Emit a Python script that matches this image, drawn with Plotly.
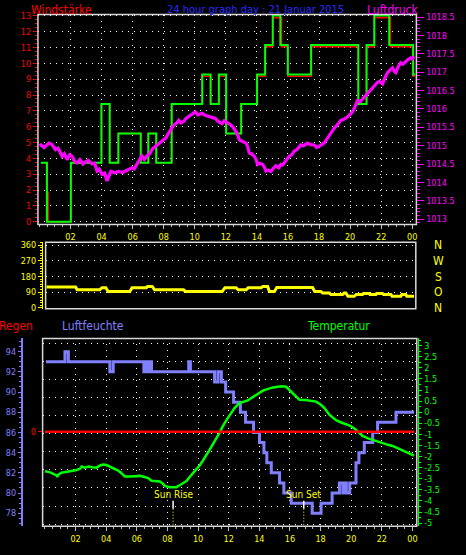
import plotly.graph_objects as go

# ---------------- data ----------------
hour_ticks = [2, 4, 6, 8, 10, 12, 14, 16, 18, 20, 22, 24]
hour_labels = ["02", "04", "06", "08", "10", "12", "14", "16", "18", "20", "22", "00"]

# wind gust (green) step series
gust_h = [0.09, 0.48, 2.02, 3.99, 4.52, 5.08, 6.52, 7.01, 7.52, 8.51, 10.48, 11.02, 11.55, 12.02,
          12.99, 14.01, 14.53, 15.02, 15.51, 15.99, 17.49, 20.53, 21.06, 21.56, 22.52, 24.06, 24.19]
gust_v = [3.72, 0, 3.72, 7.44, 3.72, 5.58, 3.72, 5.58, 3.72, 7.44, 9.3, 7.44, 9.3, 5.58,
          7.44, 9.3, 11.16, 13.02, 11.16, 9.3, 11.16, 7.44, 11.16, 13.02, 11.16, 9.3, 9.3]

# wind speed (red) step series
wind_h = [0.09, 0.48, 0.56, 2.02, 3.99, 4.52, 5.08, 6.52, 7.01, 7.52, 8.51, 10.48, 11.02, 11.55, 12.02,
          12.99, 14.01, 14.53, 15.02, 15.59, 15.99, 17.49, 20.53, 21.06, 21.56, 22.6, 24.06, 24.19]
wind_v = [3.72, 1.86, 0, 3.72, 7.44, 3.72, 5.58, 3.72, 5.58, 3.72, 7.44, 9.18, 7.44, 9.18, 5.58,
          7.44, 9.18, 11.04, 12.88, 11.04, 9.18, 11.04, 7.44, 11.04, 12.88, 11.04, 9.18, 9.18]

# pressure (magenta)
press_h = [0.0, 0.1, 0.3, 0.6, 0.8, 1.03, 1.2, 1.46, 1.6, 1.78, 1.95, 2.1, 2.25, 2.42, 2.6, 2.8, 2.96,
           3.15, 3.39, 3.55, 3.71, 3.85, 4.03, 4.2, 4.35, 4.5, 4.6, 4.85, 5.1, 5.35, 5.64, 5.8, 5.96,
           6.1, 6.28, 6.45, 6.6, 6.75, 6.93, 7.1, 7.25, 7.4, 7.57, 7.8, 8.0, 8.15, 8.32, 8.5, 8.64,
           8.8, 8.97, 9.1, 9.29, 9.45, 9.61, 9.8, 10.04, 10.2, 10.47, 10.7, 10.9, 11.1, 11.33, 11.5,
           11.76, 11.9, 12.02, 12.2, 12.34, 12.5, 12.66, 12.8, 12.87, 13.05, 13.3, 13.4, 13.51, 13.65,
           13.83, 13.95, 14.05, 14.2, 14.37, 14.5, 14.58, 14.75, 14.9, 15.05, 15.22, 15.4, 15.54,
           15.65, 15.76, 15.9, 16.08, 16.25, 16.4, 16.6, 16.83, 17.0, 17.26, 17.45, 17.69, 17.85,
           18.01, 18.15, 18.33, 18.5, 18.65, 18.8, 18.97, 19.2, 19.4, 19.6, 19.83, 20.0, 20.15, 20.3,
           20.48, 20.65, 20.8, 20.95, 21.12, 21.3, 21.44, 21.6, 21.76, 21.9, 22.09, 22.25, 22.41,
           22.55, 22.73, 22.85, 22.94, 23.1, 23.26, 23.4, 23.58, 23.75, 23.9, 24.0, 24.12]
press_v = [1015.00, 1015.02, 1014.95, 1015.07, 1015.03, 1014.89, 1014.93, 1014.71, 1014.78, 1014.62,
           1014.75, 1014.71, 1014.58, 1014.53, 1014.62, 1014.50, 1014.56, 1014.60, 1014.50, 1014.52,
           1014.31, 1014.36, 1014.22, 1014.25, 1014.04, 1014.20, 1014.30, 1014.26, 1014.30, 1014.27,
           1014.33, 1014.36, 1014.40, 1014.37, 1014.52, 1014.62, 1014.72, 1014.62, 1014.73, 1014.78,
           1014.90, 1014.95, 1015.02, 1015.10, 1015.16, 1015.22, 1015.34, 1015.45, 1015.56, 1015.60,
           1015.69, 1015.62, 1015.66, 1015.75, 1015.80, 1015.86, 1015.92, 1015.84, 1015.88, 1015.82,
           1015.80, 1015.76, 1015.74, 1015.66, 1015.60, 1015.68, 1015.65, 1015.62, 1015.56, 1015.48,
           1015.38, 1015.25, 1015.16, 1015.12, 1015.07, 1014.98, 1014.80, 1014.78, 1014.71, 1014.62,
           1014.49, 1014.52, 1014.49, 1014.40, 1014.31, 1014.33, 1014.30, 1014.38, 1014.45, 1014.40,
           1014.49, 1014.47, 1014.53, 1014.62, 1014.71, 1014.75, 1014.85, 1014.90, 1015.02, 1015.00,
           1015.07, 1015.03, 1015.02, 1014.95, 1014.98, 1015.02, 1015.07, 1015.18, 1015.29, 1015.35,
           1015.47, 1015.58, 1015.69, 1015.72, 1015.78, 1015.85, 1015.92, 1016.05, 1016.23, 1016.20,
           1016.27, 1016.35, 1016.45, 1016.52, 1016.59, 1016.65, 1016.72, 1016.75, 1016.68, 1016.85,
           1016.99, 1017.05, 1017.12, 1017.02, 1016.99, 1017.15, 1017.26, 1017.22, 1017.30, 1017.35,
           1017.39, 1017.36, 1017.43]
press_ticks = [1013, 1013.5, 1014, 1014.5, 1015, 1015.5, 1016, 1016.5, 1017, 1017.5, 1018, 1018.5]
press_labels = ["1013", "1013.5", "1014", "1014.5", "1015", "1015.5", "1016", "1016.5", "1017",
                "1017.5", "1018", "1018.5"]

# wind direction (yellow)
dir_h = [0.32, 2.2, 2.3, 3.76, 3.9, 4.15, 4.3, 5.7, 5.85, 6.77, 6.85, 7.15, 7.3, 9.17, 9.3, 11.67,
         11.85, 12.57, 12.7, 13.22, 13.35, 14.18, 14.3, 14.61, 14.72, 15.04, 15.2, 17.51, 17.65, 18.05,
         18.16, 18.59, 18.7, 19.45, 19.55, 19.66, 19.8, 20.2, 20.33, 20.74, 20.8, 21.17, 21.22, 21.6,
         21.65, 22.02, 22.1, 22.57, 22.65, 23.21, 23.28, 23.53, 23.6, 24.07]
dir_v = [120, 120, 104, 104, 116, 116, 94, 94, 116, 116, 123, 123, 104, 104, 94, 94,
         116, 116, 104, 104, 116, 116, 123, 123, 94, 94, 117, 117, 94, 94,
         85, 85, 77, 77, 85, 85, 66, 66, 77, 77, 83, 83, 77, 77,
         83, 83, 77, 77, 66, 66, 77, 77, 66, 66]

# humidity (step)
hum_h = [0.07, 1.31, 1.53, 4.24, 4.46, 6.46, 6.6, 6.7, 6.85, 6.96, 9.39, 9.5, 11.08, 11.3, 11.52,
         11.8, 12.32, 12.76, 13.1, 13.62, 14.01, 14.3, 14.49, 14.78, 15.32, 15.6, 16.08, 17.45, 18.03,
         18.75, 19.23, 19.45, 19.58, 19.68, 19.9, 20.31, 20.5, 20.85, 21.4, 21.72, 22.92, 24.1]
hum_v = [93, 94, 93, 92, 93, 92, 93, 92, 93, 92, 93, 92, 91, 92, 91,
         90, 89, 88, 87, 86, 85, 84, 83, 82, 81, 80, 79, 78, 79,
         80, 81, 80, 81, 80, 81, 83, 84, 85, 86, 87, 88, 88]

# temperature
temp_h = [0.0, 0.3, 0.55, 0.77, 0.81, 0.9, 1.09, 1.4, 1.75, 2.0, 2.29, 2.4, 2.6, 2.83, 3.1, 3.37, 3.6,
          3.8, 4.02, 4.24, 4.5, 4.78, 5.0, 5.22, 5.6, 5.98, 6.2, 6.5, 6.74, 6.96, 7.5, 7.7, 7.82, 8.15,
          8.59, 8.8, 9.0, 9.24, 9.45, 9.67, 9.9, 10.1, 10.3, 10.54, 10.75, 10.97, 11.2, 11.41, 11.6,
          11.73, 11.9, 12.06, 12.38, 12.7, 13.0, 13.25, 13.5, 13.8, 14.0, 14.23, 14.45, 14.66, 14.9,
          15.21, 15.5, 15.75, 15.9, 16.08, 16.3, 16.62, 17.0, 17.3, 17.7, 18.0, 18.25, 18.57, 18.8,
          19.01, 19.3, 19.55, 19.9, 20.2, 20.5, 20.74, 21.1, 21.4, 21.75, 22.05, 22.4, 22.7, 23.0,
          23.35, 23.7, 24.1]
temp_v = [-2.66, -2.70, -2.78, -2.85, -2.92, -2.80, -2.73, -2.70, -2.66, -2.62, -2.55, -2.45, -2.50,
          -2.45, -2.48, -2.50, -2.40, -2.36, -2.38, -2.45, -2.52, -2.63, -2.75, -2.90, -2.90, -2.90,
          -2.87, -2.92, -2.97, -3.09, -3.12, -3.22, -3.32, -3.38, -3.38, -3.29, -3.20, -3.10, -2.92,
          -2.75, -2.58, -2.40, -2.20, -1.96, -1.70, -1.44, -1.18, -0.92, -0.65, -0.48, -0.30, -0.14,
          0.19, 0.41, 0.48, 0.53, 0.65, 0.78, 0.88, 0.97, 1.03, 1.08, 1.12, 1.15, 1.17, 1.15, 1.05,
          0.93, 0.75, 0.56, 0.55, 0.52, 0.48, 0.35, 0.19, -0.11, -0.25, -0.36, -0.45, -0.51, -0.60,
          -0.73, -0.92, -1.07, -1.18, -1.25, -1.33, -1.41, -1.47, -1.52, -1.62, -1.74, -1.85, -1.96]

# rain
rain_h = [0.0, 24.1]
rain_v = [0, 0]

hum_ticks = [78, 80, 82, 84, 86, 88, 90, 92, 94]
temp_ticks = [-5, -4.5, -4, -3.5, -3, -2.5, -2, -1.5, -1, -0.5, 0, 0.5, 1, 1.5, 2, 2.5, 3]
temp_labels = ["-5", "-4.5", "-4", "-3.5", "-3", "-2.5", "-2", "-1.5", "-1", "-0.5", "0",
               "0.5", "1", "1.5", "2", "2.5", "3"]
dir_ticks = [0, 90, 180, 270, 360]
dir_letters = ["N", "O", "S", "W", "N"]

sun_rise = 8.37
sun_set = 16.9

# ---------------- style ----------------
FONT = "Liberation Sans Narrow, DejaVu Sans Condensed, Arial Narrow, sans-serif"
RED = "#ff0000"
GREEN = "#00ff00"
MAG = "#ff00ff"
YEL = "#ffff00"
HUMC = "#8080ff"
TITLEC = "#2828ff"
FRAME = "#d8d8d8"
DOTS = "1px,5px"

fig = go.Figure()

# top panel
fig.add_trace(go.Scatter(x=wind_h, y=wind_v, mode="lines", line=dict(color=RED, width=1.5, shape="hv"),
                         xaxis="x", yaxis="y", hoverinfo="skip"))
fig.add_trace(go.Scatter(x=gust_h, y=gust_v, mode="lines", line=dict(color=GREEN, width=2, shape="hv"),
                         xaxis="x", yaxis="y", hoverinfo="skip"))
fig.add_trace(go.Scatter(x=press_h, y=press_v, mode="lines", line=dict(color=MAG, width=3.2),
                         xaxis="x", yaxis="y2", hoverinfo="skip"))
# middle panel
fig.add_trace(go.Scatter(x=dir_h, y=dir_v, mode="lines", line=dict(color=YEL, width=3),
                         xaxis="x2", yaxis="y3", hoverinfo="skip"))
# bottom panel
fig.add_trace(go.Scatter(x=[0, 24], y=[None, None], mode="lines", xaxis="x3", yaxis="y7",
                         hoverinfo="skip", showlegend=False))
fig.add_trace(go.Scatter(x=hum_h, y=hum_v, mode="lines", line=dict(color=HUMC, width=3, shape="hv"),
                         xaxis="x3", yaxis="y4", hoverinfo="skip"))
fig.add_trace(go.Scatter(x=rain_h, y=rain_v, mode="lines", line=dict(color=RED, width=2.5),
                         xaxis="x3", yaxis="y6", hoverinfo="skip"))
fig.add_trace(go.Scatter(x=temp_h, y=temp_v, mode="lines", line=dict(color=GREEN, width=2.5),
                         xaxis="x3", yaxis="y5", hoverinfo="skip"))

tickfont = lambda c: dict(family=FONT, size=9, color=c)

xcommon = dict(tickmode="array", tickvals=hour_ticks, ticktext=hour_labels, tickfont=tickfont(YEL),
               ticks="outside", ticklen=4, tickcolor="#c0c0c0", showgrid=True, gridcolor="white",
               griddash=DOTS, gridwidth=1, zeroline=False, showline=False,
               minor=dict(ticks="outside", ticklen=2, tickcolor="#c0c0c0", tickmode="linear",
                          tick0=0, dtick=0.5, showgrid=False))

fig.update_layout(
    width=466, height=555, margin=dict(l=0, r=0, t=0, b=0),
    paper_bgcolor="black", plot_bgcolor="black", showlegend=False,
    xaxis=dict(domain=[38 / 466, 417.3 / 466], anchor="y", range=[-0.1, 24.27], **xcommon),
    yaxis=dict(domain=[1 - 223.7 / 555, 1 - 10.7 / 555], anchor="x", range=[-0.17, 13.08],
               tickmode="linear", tick0=0, dtick=1, tickfont=tickfont(RED), ticks="outside",
               ticklen=4, tickcolor=RED, showgrid=True, gridcolor="white", griddash=DOTS,
               zeroline=False, showline=False,
               minor=dict(ticks="outside", ticklen=2, tickcolor=RED, tickmode="linear", tick0=0,
                          dtick=0.25, showgrid=False)),
    yaxis2=dict(overlaying="y", side="right", anchor="x", range=[1012.855, 1018.57],
                tickmode="array", tickvals=press_ticks, ticktext=press_labels,
                tickfont=tickfont(MAG), ticks="outside",
                ticklen=7, tickcolor=MAG, showgrid=False, zeroline=False, showline=False,
                minor=dict(ticks="outside", ticklen=3, tickcolor=MAG, tickmode="linear",
                           tick0=1013, dtick=0.1, showgrid=False)),
    xaxis2=dict(domain=[45.7 / 466, 416.7 / 466], anchor="y3", range=[0.26, 24.18],
                showticklabels=False, ticks="", showgrid=False, zeroline=False, showline=False),
    yaxis3=dict(domain=[1 - 309.3 / 555, 1 - 241.7 / 555], anchor="free", position=42 / 466,
                range=[-5.7, 377], tickmode="array", tickvals=dir_ticks, tickfont=tickfont(YEL),
                ticks="outside", ticklen=4, tickcolor=YEL, showline=True, linecolor=YEL, linewidth=1,
                showgrid=True, gridcolor="white", griddash=DOTS, zeroline=False,
                minor=dict(ticks="outside", ticklen=2, tickcolor=YEL, tickmode="linear", tick0=0,
                           dtick=15, showgrid=False)),
    xaxis3=dict(domain=[42.7 / 466, 417.7 / 466], anchor="y4", range=[-0.15, 24.28], **xcommon),
    yaxis4=dict(domain=[1 - 530 / 555, 1 - 339.3 / 555], anchor="free", position=22 / 466,
                side="left", range=[76.70, 95.31], tickmode="array", tickvals=hum_ticks,
                tickfont=tickfont(HUMC), ticks="outside", ticklen=3, tickcolor=HUMC,
                showline=True, linecolor=HUMC, linewidth=2, showgrid=False, zeroline=False,
                minor=dict(ticks="outside", ticklen=2, tickcolor=HUMC, tickmode="linear",
                           tick0=78, dtick=0.5, showgrid=False)),
    yaxis5=dict(overlaying="y4", anchor="free", position=419.3 / 466, side="right",
                range=[-5.147, 3.33], tickmode="array", tickvals=temp_ticks, ticktext=temp_labels,
                tickfont=tickfont(GREEN), ticks="outside", ticklen=3, tickcolor=GREEN,
                showline=True, linecolor=GREEN, linewidth=1, showgrid=False, zeroline=False,
                minor=dict(ticks="outside", ticklen=2, tickcolor=GREEN, tickmode="linear",
                           tick0=0, dtick=0.25, showgrid=False)),
    yaxis6=dict(overlaying="y4", anchor="x3", side="left", range=[-1.014, 1.0], tickmode="array",
                tickvals=[0], ticktext=["0"], tickfont=tickfont(RED), ticks="outside", ticklen=4,
                tickcolor=RED, showgrid=False, zeroline=False, showline=False),
    yaxis7=dict(overlaying="y4", anchor="x3", side="left", range=[-0.1255, 10.278],
                tickmode="linear", tick0=0, dtick=1, showticklabels=False, ticks="",
                showgrid=True, gridcolor="white", griddash=DOTS, zeroline=False, showline=False),
)

# frames
for xr, yr in [("x domain", "y domain"), ("x2 domain", "y3 domain"), ("x3 domain", "y4 domain")]:
    fig.add_shape(type="rect", xref=xr, yref=yr, x0=0, x1=1, y0=0, y1=1,
                  line=dict(color=FRAME, width=1.5), layer="above")

# sun rise / sun set markers
for t, label in [(sun_rise, "Sun Rise"), (sun_set, "Sun Set")]:
    fig.add_shape(type="line", xref="x3", yref="y5", x0=t, x1=t, y0=-3.99, y1=-4.35,
                  line=dict(color="white", width=1.5))
    fig.add_shape(type="line", xref="x3", yref="y5", x0=t, x1=t, y0=-4.35, y1=-5.147,
                  line=dict(color=YEL, width=1, dash="1px,2px"))
    fig.add_annotation(x=t, y=-3.69, xref="x3", yref="y5", text=label, showarrow=False,
                       font=dict(family=FONT, size=10, color=YEL), xanchor="center", yanchor="middle")

# headings
def head(text, x, y, color, size=12):
    fig.add_annotation(x=x / 466, y=1 - y / 555, xref="paper", yref="paper", text=text,
                       showarrow=False, font=dict(family=FONT, size=size, color=color),
                       xanchor="center", yanchor="middle")

head("Windstärke", 61.3, 6, RED)
head("24 hour graph day : 21 Januar 2015", 255.8, 6, TITLEC, 11)
head("Luftdruck", 393.7, 6, MAG)
head("Regen", 16, 327, RED)
head("Luftfeuchte", 93.4, 327, HUMC)
head("Temperatur", 339.7, 327, GREEN)

for v, letter in zip(dir_ticks, dir_letters):
    fig.add_annotation(x=439 / 466, y=v, xref="paper", yref="y3", text=letter, showarrow=False,
                       font=dict(family=FONT, size=12, color=YEL), xanchor="center",
                       yanchor="middle")

fig.write_html("out.html", config={"displayModeBar": False},
               post_script="document.body.style.margin='0';document.body.style.padding='0';"
                           "document.body.style.overflow='hidden';")
